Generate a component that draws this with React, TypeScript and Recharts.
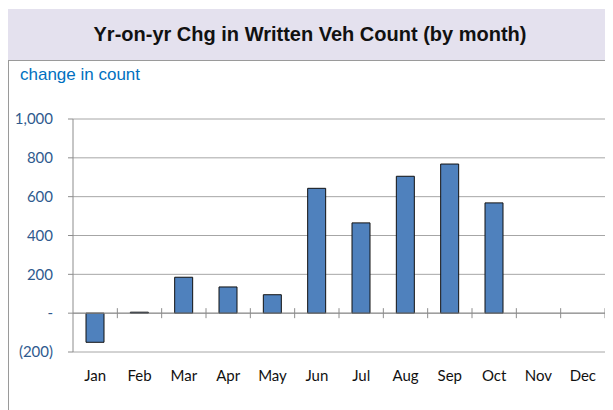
import React from "react";
import { BarChart, Bar, XAxis, YAxis, CartesianGrid, ReferenceLine } from "recharts";

const months = ["Jan", "Feb", "Mar", "Apr", "May", "Jun", "Jul", "Aug", "Sep", "Oct", "Nov", "Dec"];
const changes: (number | null)[] = [-150, 5, 185, 135, 95, 643, 465, 705, 768, 568, null, null];
const yTicks = [-200, 0, 200, 400, 600, 800, 1000];

const data = months.map((m, i) => ({ month: m, change: changes[i] }));

const fmt = (v: number) => {
  if (v === 0) return "-";
  const s = Math.abs(v).toLocaleString("en-US");
  return v < 0 ? `(${s})` : s;
};

const ZeroAxis = (props: any) => {
  const { x1, y1, x2, y2 } = props;
  const n = months.length;
  const step = (x2 - x1) / n;
  const ticks = [];
  for (let i = 1; i <= n; i++) {
    const x = x1 + step * i;
    ticks.push(<line key={i} x1={x} x2={x} y1={y1 - 5} y2={y1 + 5} stroke="#8c8c8c" strokeWidth={1} />);
  }
  return (
    <g>
      <line x1={x1} y1={y1} x2={x2} y2={y2} stroke="#8c8c8c" strokeWidth={1} />
      {ticks}
    </g>
  );
};

export default function App() {
  return (
    <div style={{ position: "relative", width: 605, height: 402, fontFamily: "'Liberation Sans', Arial, sans-serif" }}>
      <div
        style={{
          position: "absolute",
          left: -1,
          top: 1,
          width: 606,
          height: 51,
          background: "#E4E1EE",
          display: "flex",
          alignItems: "center",
          justifyContent: "center",
          fontWeight: "bold",
          fontSize: 20,
          color: "#111",
        }}
      >
        Yr-on-yr Chg in Written Veh Count (by month)
      </div>
      <div
        style={{
          position: "absolute",
          left: 0,
          top: 52,
          width: 605,
          height: 350,
          borderLeft: "1px solid #9a9a9a",
          borderTop: "1px solid #9a9a9a",
          boxSizing: "border-box",
        }}
      />
      <div style={{ position: "absolute", left: 12, top: 57, fontSize: 17, color: "#0070C0" }}>change in count</div>
      <div style={{ position: "absolute", left: 0, top: 52 }}>
        <BarChart
          width={605}
          height={350}
          data={data}
          margin={{ top: 59, right: 8, bottom: 0, left: 0 }}
          barSize={18}
        >
          <CartesianGrid vertical={false} stroke="#a6a6a6" />
          <XAxis
            dataKey="month"
            axisLine={false}
            tickLine={false}
            height={58}
            tickMargin={12}
            tick={{ fill: "#111", fontSize: 15, fontFamily: "Lato, 'Open Sans', sans-serif" }}
            interval={0}
          />
          <YAxis
            width={65}
            domain={[-200, 1000]}
            ticks={yTicks}
            tickFormatter={fmt}
            axisLine={{ stroke: "#8c8c8c" }}
            tickLine={{ stroke: "#8c8c8c" }}
            tickSize={5}
            tickMargin={15}
            tick={{ fill: "#2F5A8E", fontSize: 15, fontFamily: "Lato, 'Open Sans', sans-serif" }}
            interval={0}
          />
          <ReferenceLine y={0} shape={ZeroAxis} />
          <Bar dataKey="change" fill="#4F81BD" stroke="#111" strokeWidth={1} isAnimationActive={false} />
        </BarChart>
      </div>
    </div>
  );
}
